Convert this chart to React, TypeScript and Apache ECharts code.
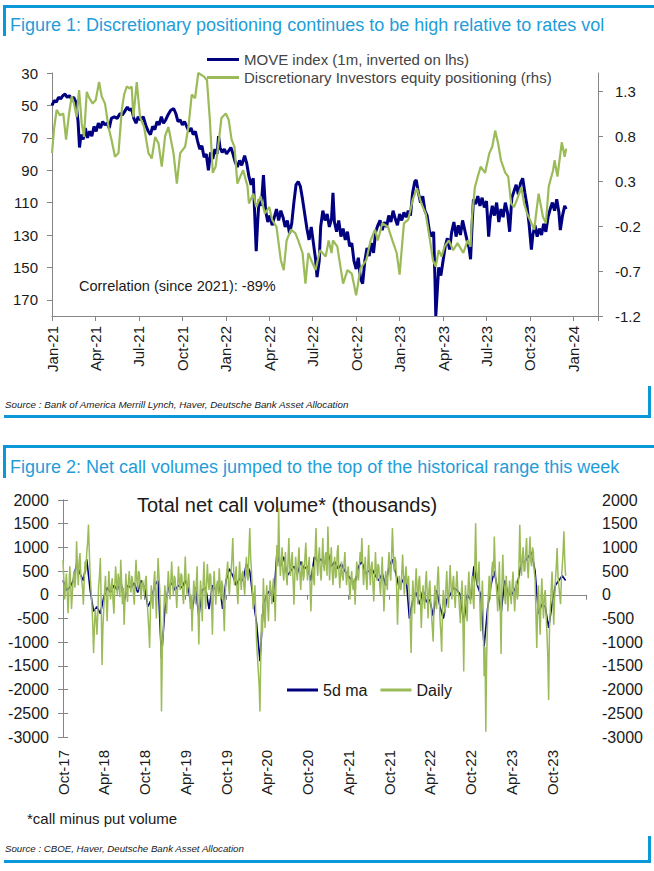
import React, { useEffect, useRef } from 'react';
import * as echarts from 'echarts';

// ---------- Figure 1 ----------
const fig1Title = 'Figure 1: Discretionary positioning continues to be high relative to rates vol';
const fig1Source = 'Source : Bank of America Merrill Lynch, Haver, Deutsche Bank Asset Allocation';
const fig1Note = 'Correlation (since 2021): -89%';
const fig1SeriesNames = ['MOVE index (1m, inverted on lhs)', 'Discretionary Investors equity positioning (rhs)'];
const fig1TickLabels = ['Jan-21', 'Apr-21', 'Jul-21', 'Oct-21', 'Jan-22', 'Apr-22', 'Jul-22', 'Oct-22', 'Jan-23', 'Apr-23', 'Jul-23', 'Oct-23', 'Jan-24'];

// [months since Jan-21, MOVE level]
const moveIndex: [number, number][] = [
  [0.0, 50], [0.15, 47], [0.3, 48], [0.45, 45], [0.6, 46], [0.75, 44], [0.9, 43], [1.05, 45], [1.2, 44], [1.35, 46], [1.5, 45], [1.65, 48],
  [1.8, 60], [1.9, 76], [2.0, 68], [2.15, 71], [2.3, 64], [2.45, 70], [2.6, 66], [2.75, 69], [2.9, 63], [3.05, 66], [3.2, 61], [3.35, 64],
  [3.5, 60], [3.65, 62], [3.8, 61], [3.95, 64], [4.1, 58], [4.3, 57], [4.5, 58], [4.7, 55], [4.85, 56], [5.0, 54], [5.2, 51], [5.35, 53],
  [5.5, 52], [5.65, 58], [5.8, 61], [5.95, 57], [6.1, 59], [6.3, 57], [6.5, 63], [6.65, 66], [6.8, 68], [6.95, 63], [7.1, 65], [7.25, 60],
  [7.4, 62], [7.55, 57], [7.7, 61], [7.85, 59], [8.0, 56], [8.2, 53], [8.4, 52], [8.55, 55], [8.7, 60], [8.85, 59], [9.0, 62], [9.15, 60],
  [9.3, 63], [9.45, 66], [9.6, 64], [9.75, 68], [9.9, 66], [10.05, 72], [10.2, 77], [10.35, 75], [10.5, 82], [10.65, 80], [10.8, 90], [10.95, 79],
  [11.1, 83], [11.25, 77], [11.4, 80], [11.5, 69], [11.6, 76], [11.75, 79], [11.9, 77], [12.05, 80], [12.2, 78], [12.35, 76], [12.5, 80], [12.65, 85],
  [12.8, 88], [12.95, 84], [13.1, 87], [13.3, 81], [13.45, 86], [13.6, 94], [13.75, 99], [13.9, 95], [14.0, 118], [14.1, 140], [14.2, 122], [14.3, 108],
  [14.45, 112], [14.6, 93], [14.75, 115], [14.9, 122], [15.05, 118], [15.2, 124], [15.35, 119], [15.5, 114], [15.65, 121], [15.8, 115], [15.95, 119], [16.1, 125],
  [16.25, 121], [16.4, 129], [16.55, 123], [16.7, 110], [16.85, 99], [17.0, 97], [17.15, 100], [17.3, 108], [17.45, 117], [17.6, 126], [17.75, 133], [17.9, 125],
  [18.05, 135], [18.2, 145], [18.3, 156], [18.45, 146], [18.55, 125], [18.7, 115], [18.85, 121], [19.0, 117], [19.15, 125], [19.3, 120], [19.4, 104], [19.5, 122],
  [19.65, 128], [19.8, 121], [19.95, 131], [20.1, 126], [20.25, 133], [20.4, 128], [20.55, 137], [20.7, 135], [20.85, 146], [21.0, 151], [21.15, 144], [21.3, 157],
  [21.45, 160], [21.6, 146], [21.75, 138], [21.9, 143], [22.05, 135], [22.2, 141], [22.35, 128], [22.5, 124], [22.65, 121], [22.8, 127], [22.95, 122], [23.1, 125],
  [23.25, 118], [23.4, 122], [23.55, 115], [23.7, 120], [23.85, 124], [24.0, 117], [24.15, 121], [24.3, 116], [24.45, 119], [24.6, 115], [24.75, 118], [24.9, 104],
  [25.05, 97], [25.15, 96], [25.3, 104], [25.45, 110], [25.6, 106], [25.75, 115], [25.9, 118], [26.05, 127], [26.2, 131], [26.35, 128], [26.45, 160], [26.5, 180],
  [26.6, 165], [26.7, 150], [26.85, 155], [27.0, 146], [27.15, 137], [27.3, 132], [27.45, 139], [27.6, 128], [27.75, 122], [27.9, 131], [28.05, 124], [28.2, 130],
  [28.35, 121], [28.5, 127], [28.65, 133], [28.8, 138], [28.9, 145], [29.0, 125], [29.1, 108], [29.25, 111], [29.4, 106], [29.55, 112], [29.7, 107], [29.85, 113],
  [30.0, 109], [30.15, 131], [30.25, 120], [30.4, 112], [30.55, 118], [30.7, 110], [30.85, 122], [31.0, 114], [31.15, 119], [31.3, 110], [31.45, 116], [31.6, 128],
  [31.75, 107], [31.9, 103], [32.05, 99], [32.2, 105], [32.35, 98], [32.5, 95], [32.65, 104], [32.8, 112], [32.95, 124], [33.1, 139], [33.2, 130], [33.35, 124],
  [33.5, 131], [33.65, 126], [33.8, 130], [33.95, 123], [34.1, 128], [34.25, 119], [34.4, 114], [34.55, 110], [34.7, 115], [34.85, 108], [35.0, 116], [35.1, 127],
  [35.25, 118], [35.4, 112], [35.5, 114],
];

// [months since Jan-21, positioning z-score]
const discretionary: [number, number][] = [
  [0.0, 0.61], [0.14, 0.88], [0.32, 1.09], [0.55, 1.03], [0.78, 1.05], [0.97, 0.76], [1.18, 1.05], [1.36, 1.24], [1.52, 1.16], [1.7, 1.01],
  [1.87, 1.31], [2.05, 0.94], [2.21, 0.79], [2.4, 1.29], [2.58, 1.22], [2.81, 1.16], [3.02, 1.2], [3.25, 1.4], [3.43, 1.24], [3.66, 1.16],
  [3.9, 0.9], [4.12, 0.75], [4.35, 0.57], [4.59, 0.61], [4.82, 1.09], [4.98, 1.26], [5.16, 1.35], [5.35, 1.33], [5.5, 1.35], [5.62, 1.01],
  [5.85, 1.4], [6.08, 1.01], [6.36, 0.9], [6.66, 0.61], [6.89, 0.55], [7.12, 0.79], [7.35, 0.72], [7.58, 0.46], [7.81, 0.8], [8.04, 0.9],
  [8.39, 0.61], [8.62, 0.27], [8.85, 0.61], [9.19, 0.68], [9.42, 0.9], [9.65, 1.26], [9.88, 1.22], [10.1, 1.5], [10.5, 1.46], [10.7, 1.42],
  [10.9, 0.98], [11.1, 0.39], [11.3, 0.46], [11.5, 0.72], [11.7, 1.0], [12.0, 1.05], [12.2, 0.98], [12.4, 0.76], [12.6, 0.68], [12.8, 0.27],
  [13.0, 0.35], [13.2, 0.42], [13.5, 0.24], [13.6, 0.05], [13.9, 0.16], [14.1, 0.01], [14.4, 0.13], [14.7, -0.06], [15.0, 0.01], [15.2, -0.13],
  [15.5, -0.21], [15.8, -0.58], [16.0, -0.69], [16.2, -0.36], [16.5, -0.24], [16.8, -0.28], [17.0, -0.36], [17.3, -0.5], [17.5, -0.84], [17.7, -0.5],
  [17.9, -0.58], [18.2, -0.69], [18.5, -0.47], [18.9, -0.54], [19.1, -0.36], [19.3, -0.5], [19.4, -0.36], [19.7, -0.43], [20.1, -0.84], [20.4, -0.69],
  [20.7, -0.73], [21.0, -0.97], [21.3, -0.67], [21.7, -0.58], [22.0, -0.36], [22.3, -0.24], [22.5, -0.36], [22.8, -0.17], [23.2, -0.21], [23.5, -0.36],
  [23.8, -0.5], [24.0, -0.74], [24.3, -0.17], [24.6, -0.13], [24.9, 0.09], [25.2, 0.22], [25.5, 0.05], [25.8, -0.06], [26.1, -0.36], [26.3, -0.58],
  [26.5, -0.65], [26.7, -0.47], [26.9, -0.54], [27.1, -0.43], [27.4, -0.36], [27.7, -0.47], [28.0, -0.39], [28.4, -0.5], [28.7, -0.36], [28.9, -0.43],
  [29.0, -0.1], [29.2, 0.23], [29.4, 0.35], [29.6, 0.46], [29.9, 0.39], [30.2, 0.61], [30.4, 0.68], [30.6, 0.86], [30.8, 0.72], [31.0, 0.53],
  [31.3, 0.39], [31.5, 0.35], [31.7, 0.05], [31.9, 0.01], [32.1, 0.09], [32.4, 0.23], [32.6, 0.05], [32.8, -0.06], [33.0, -0.13], [33.3, -0.24],
  [33.4, -0.1], [33.6, 0.16], [33.9, -0.1], [34.1, -0.17], [34.3, 0.24], [34.6, 0.42], [34.7, 0.53], [34.9, 0.35], [35.2, 0.73], [35.4, 0.57],
  [35.5, 0.66],
];

// ---------- Figure 2 ----------
const fig2Title = 'Figure 2: Net call volumes jumped to the top of the historical range this week';
const fig2ChartTitle = 'Total net call volume* (thousands)';
const fig2Footnote = '*call minus put volume';
const fig2Source = 'Source : CBOE, Haver, Deutsche Bank Asset Allocation';
const fig2SeriesNames = ['5d ma', 'Daily'];
const fig2TickLabels = ['Oct-17', 'Apr-18', 'Oct-18', 'Apr-19', 'Oct-19', 'Apr-20', 'Oct-20', 'Apr-21', 'Oct-21', 'Apr-22', 'Oct-22', 'Apr-23', 'Oct-23'];

// sampled every eighth of a month from Oct-17 (thousands of contracts)
const DAILY_STEP = 0.125;
const dailyNetCalls: number[] = [
  740, 300, -100, 200, 450, 50, -390, 100, 600, 250, -300, 0, 350, 500, 150, 400, 1130, 600, 200, 700, 880, 400, 300, 150,
  -210, 300, 700, 500, 900, 1100, 1480, 900, 400, 100, -200, -600, -1230, -700, -300, -500, -840, -400, 200, 400, 775, -200, -1480, -700,
  -300, 100, 400, -100, -560, 50, 500, 150, -100, 200, 350, -150, -400, 200, 600, 250, 0, 450, 300, -50, 740, 300, -200, 150,
  -630, -100, 450, 100, -150, 250, 500, 200, 50, 400, 300, 0, -210, 350, 740, 300, 100, 500, 450, 150, -100, 250, 300, 100,
  0, 300, 400, -100, -400, -700, -1120, -300, 200, -100, -300, 250, 500, 0, -500, 200, 775, 400, 100, -600, -2460, -1100, -800, -200,
  200, -100, -400, 100, 500, 200, -100, 300, 700, 250, 0, 400, 350, 50, -280, 150, 600, 300, 100, 450, 400, 0, -200, 300,
  810, 300, 0, 250, 450, 100, -300, 0, -770, -200, 300, 100, -200, 250, 600, -300, -1050, -200, 300, 0, -560, 200, 700, 150,
  -300, 200, 650, 300, 100, 450, 400, -200, -840, 100, 500, 150, -210, 200, 300, 0, 560, 250, -100, 300, 200, -300, -770, 0,
  300, 500, 700, 200, 0, 350, 500, 800, 1200, 500, 200, 400, 600, 100, -200, 300, 700, 350, 100, 450, 500, 200, 0, 400,
  800, 400, 300, 900, 1410, 800, 500, 100, -300, -100, 200, -400, -1000, -1300, -1600, -1900, -2460, -1200, -400, -800, 350, -200, -700, -100,
  200, -200, -560, 0, 300, 50, -200, 150, 350, 0, -560, 400, 1050, 600, 1830, 800, 400, 700, 1000, 500, 300, 600, 900, 400,
  200, 700, 1200, 600, 400, 750, 900, 300, -210, 400, 800, 500, 300, 700, 1000, 450, 100, 500, 700, 300, 400, 800, 1100, 600,
  300, 600, 800, 200, -350, 250, 600, 350, 200, 900, 1410, 700, 400, 800, 1000, 500, 300, 700, 1200, 600, 500, 850, 900, 400,
  1440, 800, 300, 700, 1000, 500, 200, 600, 800, 350, 400, 900, 1050, 500, 140, 450, 700, 400, 300, 650, 900, 500, 200, 450,
  600, 250, -100, 300, 500, 200, 100, 350, -210, 300, 700, 400, 300, 600, 900, 700, 1200, 600, 200, 500, 800, 350, 100, 600,
  1050, 500, 200, 600, 700, 250, -140, 350, 900, 500, 300, 650, 600, 200, 0, 400, 800, 200, -350, 100, 500, 300, 100, 600,
  900, 500, 300, 800, 1410, 900, 500, 800, 700, 100, -630, 0, 400, 150, 100, 450, 850, 400, 0, 350, 600, 250, 200, 400,
  -100, -600, -1230, -300, 300, 0, -400, 200, 560, 100, -200, 300, 400, -100, -700, -200, 200, -100, -300, 250, 500, 0, -500, 100,
  300, -100, -400, -700, -985, -200, 200, -100, -300, 300, 600, 100, -500, -800, -1200, -300, 100, -200, -400, 150, 500, 0, -280, 200,
  630, 200, -100, 250, 400, 0, -280, 200, 500, 100, 0, -300, -600, 0, 300, -500, -1620, -300, 200, -200, -560, 100, 490, 0,
  -200, 200, 400, -100, -300, 600, 1510, 500, 200, 400, 700, -200, -770, -100, 300, -500, -1720, -1100, -2890, -1300, -600, 0, 400, -100,
  200, 500, 700, 400, 1230, 600, 300, 0, -350, 200, 700, -300, -1250, 200, 845, 300, 100, -200, 400, 100, -350, 50, 300, 0,
  -200, 200, 490, 0, -350, 100, 300, -100, 0, 600, 1480, 700, 400, 800, 1000, 500, 500, 900, 1200, 600, 350, 800, 1230, 700,
  600, 1000, 900, 500, 350, -400, -1120, -300, 200, -400, -840, -100, 350, -200, -500, 0, 100, -400, -800, -1300, -2220, -700, -300, 100,
  490, 0, -630, -100, 300, 600, 985, 400, 200, 0, -200, 300, 600, 900, 1340, 700, 400,
];

// sampled every half month from Oct-17
const MA_STEP = 0.5;
const ma5d: number[] = [
  300, 100, 150, 300, 650, 450, 300, 750, 100, -350, -250, -400,
  -50, 150, 50, 200, 100, 300, -150, 200, 150, 250, 50, 300,
  150, -250, -100, 200, 300, -1340, -300, 150, 250, 100, 200, 150,
  300, 100, -350, 150, -450, 100, 150, -300, 200, 100, 250, -300,
  300, 550, 400, 200, 350, 300, 650, 500, -100, -600, -1400, -200,
  0, 100, -150, 900, 600, 800, 400, 500, 600, 450, 700, 550,
  600, 300, 800, 700, 750, 650, 900, 600, 700, 550, 650, 500,
  400, 300, 250, 600, 700, 450, 500, 550, 400, 300, 450, 200,
  600, 750, 450, 150, 300, 400, -500, -100, 50, -200, 100, -150,
  -100, -450, 100, -250, -500, -100, 0, 150, 100, 0, -600, 0,
  -100, 600, 200, 0, -1090, -300, 200, 500, 100, -400, 300, 50,
  0, 100, 300, 700, 700, 800, 900, 500, -400, -200, -250, -700,
  -200, 200, 300, 400, 300,
];

const FONT = "'Liberation Sans', Arial, Helvetica, sans-serif";
const NAVY = '#000080';
const GREEN = '#9bbb59';
const FRAME = '#0b98d8';
const TITLE_BLUE = '#1f9dd9';
const AXIS = '#868686';
const TEXT = '#1a1a1a';

export default function App() {
  const ref = useRef<HTMLDivElement>(null);

  useEffect(() => {
    if (!ref.current) return;
    const chart = echarts.init(ref.current, null, { renderer: 'svg' });

    const rect = (x: number, y: number, w: number, h: number) => ({
      type: 'rect', shape: { x, y, width: w, height: h }, style: { fill: FRAME }, silent: true,
    });
    const text = (x: number, y: number, t: string, size: number, fill: string, italic = false) => ({
      type: 'text', x, y, silent: true,
      style: {
        text: t, fontSize: size, fontFamily: FONT, fontStyle: italic ? 'italic' : 'normal', fill,
        textVerticalAlign: 'middle', verticalAlign: 'middle', textAlign: 'left', align: 'left',
      },
    });

    const axisLineStyle = { show: true, lineStyle: { color: AXIS, width: 1 } };
    const tick = { show: true, length: 5, lineStyle: { color: AXIS } };

    chart.setOption({
      animation: false,
      grid: [
        { left: 52, top: 73, width: 546, height: 243 },
        { left: 63, top: 500, width: 523, height: 237 },
      ],
      legend: [
        {
          data: fig1SeriesNames, orient: 'vertical', left: 202, top: 47, icon: 'rect', itemWidth: 32, itemHeight: 3, itemGap: 3,
          textStyle: { fontSize: 15, fontFamily: FONT, color: '#444' }, selectedMode: false,
        },
        {
          data: fig2SeriesNames, orient: 'horizontal', left: 282, top: 677, icon: 'rect', itemWidth: 31, itemHeight: 3, itemGap: 13,
          textStyle: { fontSize: 16, fontFamily: FONT, color: TEXT }, selectedMode: false,
        },
      ],
      xAxis: [
        {
          gridIndex: 0, type: 'value', min: 0, max: 37.7, interval: 3, position: 'bottom',
          axisLine: { ...axisLineStyle, onZero: false }, axisTick: tick, splitLine: { show: false },
          axisLabel: {
            rotate: 90, margin: 10, fontSize: 15, fontFamily: FONT, color: TEXT,
            formatter: (v: number) => {
              const i = v / 3;
              return Number.isInteger(i) && i < fig1TickLabels.length ? fig1TickLabels[i] : '';
            },
          },
        },
        {
          gridIndex: 1, type: 'value', min: 0, max: 77, interval: 6, position: 'top',
          axisLine: { ...axisLineStyle, onZero: true, onZeroAxisIndex: 2 },
          axisTick: { ...tick, inside: true }, axisLabel: { show: false }, splitLine: { show: false },
        },
        {
          gridIndex: 1, type: 'value', min: 0, max: 77, interval: 6, position: 'bottom',
          axisLine: { show: false }, axisTick: { show: false }, splitLine: { show: false },
          axisLabel: {
            rotate: 90, margin: 13, fontSize: 15, fontFamily: FONT, color: TEXT,
            formatter: (v: number) => {
              const i = v / 6;
              return Number.isInteger(i) && i < fig2TickLabels.length ? fig2TickLabels[i] : '';
            },
          },
        },
      ],
      yAxis: [
        {
          gridIndex: 0, type: 'value', min: 30, max: 180, interval: 20, inverse: true, position: 'left',
          axisLine: axisLineStyle, axisTick: tick, splitLine: { show: false },
          axisLabel: { showMaxLabel: false, margin: 14, fontSize: 15, fontFamily: FONT, color: TEXT },
        },
        {
          gridIndex: 0, type: 'value', min: -1.2, max: 1.5, interval: 0.5, position: 'right',
          axisLine: axisLineStyle, axisTick: tick, splitLine: { show: false },
          axisLabel: {
            showMaxLabel: false, margin: 17, fontSize: 15, fontFamily: FONT, color: TEXT,
            formatter: (v: number) => (Math.abs(v - 1.5) < 1e-6 ? '' : v.toFixed(1)),
          },
        },
        {
          gridIndex: 1, type: 'value', min: -3000, max: 2000, interval: 500, position: 'left',
          axisLine: axisLineStyle, axisTick: tick, splitLine: { show: false },
          axisLabel: { margin: 14, fontSize: 16, fontFamily: FONT, color: TEXT, formatter: (v: number) => String(v) },
        },
        {
          gridIndex: 1, type: 'value', min: -3000, max: 2000, interval: 500, position: 'right',
          axisLine: axisLineStyle, axisTick: tick, splitLine: { show: false },
          axisLabel: { margin: 16, fontSize: 16, fontFamily: FONT, color: TEXT, formatter: (v: number) => String(v) },
        },
      ],
      series: [
        {
          name: fig1SeriesNames[0], type: 'line', xAxisIndex: 0, yAxisIndex: 0, data: moveIndex,
          symbol: 'none', lineStyle: { color: NAVY, width: 3 }, itemStyle: { color: NAVY }, z: 2,
        },
        {
          name: fig1SeriesNames[1], type: 'line', xAxisIndex: 0, yAxisIndex: 1, data: discretionary,
          symbol: 'none', lineStyle: { color: GREEN, width: 2.2 }, itemStyle: { color: GREEN }, z: 3,
        },
        {
          name: fig2SeriesNames[0], type: 'line', xAxisIndex: 1, yAxisIndex: 2,
          data: ma5d.map((v, i) => [i * MA_STEP, v]),
          symbol: 'none', lineStyle: { color: NAVY, width: 1.6 }, itemStyle: { color: NAVY }, z: 2,
        },
        {
          name: fig2SeriesNames[1], type: 'line', xAxisIndex: 1, yAxisIndex: 2,
          data: dailyNetCalls.map((v, i) => [i * DAILY_STEP, v]),
          symbol: 'none', lineStyle: { color: GREEN, width: 1.5 }, itemStyle: { color: GREEN }, z: 3,
        },
      ],
      graphic: [
        rect(3, 5, 651, 3), rect(3, 5, 3, 31), rect(4, 415, 647, 3), rect(648, 386, 3, 32),
        rect(3, 445, 651, 3), rect(3, 445, 3, 33), rect(4, 860, 647, 3), rect(648, 836, 3, 27),
        text(10, 25, fig1Title, 18, TITLE_BLUE),
        text(79, 286, fig1Note, 14.5, TEXT),
        text(5, 404, fig1Source, 9.8, TEXT, true),
        text(10, 467, fig2Title, 18, TITLE_BLUE),
        text(137, 505, fig2ChartTitle, 20, TEXT),
        text(27, 818, fig2Footnote, 15, TEXT),
        text(5, 848, fig2Source, 9.7, TEXT, true),
      ],
    });

    return () => chart.dispose();
  }, []);

  return (
    <div
      ref={ref}
      style={{ position: 'fixed', left: 0, top: 0, width: 654, height: 871, background: '#ffffff' }}
    />
  );
}
